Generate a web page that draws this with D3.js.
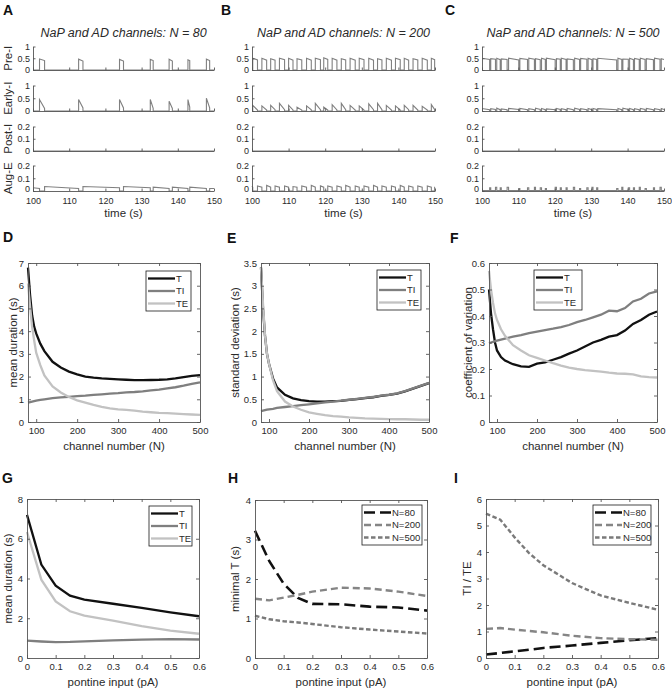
<!DOCTYPE html>
<html><head><meta charset="utf-8">
<script src="https://cdn.jsdelivr.net/npm/d3@7"></script>
<style>
body{margin:0;background:#fff}
svg{display:block}
text{font-family:"Liberation Sans",Arial,Helvetica,sans-serif}
</style>
</head><body>
<svg id="c" width="672" height="692"></svg>
<script>
// ---------------- DATA ----------------
const timeTicks=[100,110,120,130,140,150];
const rowNames=["Pre-I","Early-I","Post-I","Aug-E"];
const rowMax=[1,1,0.2,0.2];
const rowTicks=[[0,0.5,1],[0,0.5,1],[0,0.1,0.2],[0,0.1,0.2]];
const panelTitles=["NaP and AD channels: N = 80","NaP and AD channels: N = 200","NaP and AD channels: N = 500"];

// Panel A (N=80): inspiratory bursts
const onA=[101.8,112.6,123.9,132.4,137.6,142.8,147.9];
const durA=[1.4,1.2,1.1,0.8,0.9,0.5,0.9];
const preIPkA=[0.47,0.46,0.45,0.45,0.46,0.43,0.46];
const preIEndA=[0.4,0.38,0.38,0.4,0.38,0.4,0.4];
const earlyPkA=[0.45,0.45,0.45,0.45,0.38,0.45,0.5];
const earlyEndA=[0.1,0.12,0.12,0.1,0.1,0.15,0.12];
const augStartA=[0.025,0.035,0.035,0.035,0.03,0.03,0.03,0.02];
const augEndA=[0.02,0.02,0.025,0.025,0.02,0.02,0.02,0.02];

// Panel B (N=200)
const onB=[100.2,102.7,105.1,107.5,110.0,112.3,114.9,117.3,119.6,121.9,124.4,126.8,129.3,131.9,134.3,136.7,139.2,141.6,144.0,146.5,149.0];
const durB=[1.3,1.3,1.2,1.4,1.2,1.3,1.3,1.4,1.1,1.3,1.2,1.4,1.3,1.3,1.2,1.4,1.3,1.2,1.3,1.4,0.9];
const preIPkB=[0.5,0.5,0.48,0.5,0.5,0.48,0.5,0.5,0.52,0.5,0.48,0.5,0.5,0.5,0.48,0.5,0.5,0.5,0.48,0.5,0.5];
const preIEndB=[0.43,0.42,0.42,0.44,0.42,0.43,0.42,0.44,0.45,0.42,0.43,0.42,0.44,0.42,0.43,0.42,0.44,0.42,0.43,0.42,0.44];
const earlyPkB=[0.22,0.2,0.22,0.3,0.22,0.15,0.2,0.3,0.15,0.25,0.3,0.22,0.2,0.28,0.3,0.22,0.2,0.22,0.22,0.18,0.25];
const earlyEndB=[0.04,0.04,0.05,0.05,0.04,0.04,0.05,0.05,0.04,0.04,0.05,0.04,0.04,0.05,0.05,0.04,0.04,0.05,0.04,0.04,0.06];
const augStartB=[0.04,0.04,0.045,0.04,0.04,0.035,0.04,0.045,0.04,0.04,0.04,0.045,0.04,0.04,0.045,0.04,0.04,0.045,0.04,0.04,0.04,0.03];
const augEndB=[0.03,0.03,0.03,0.03,0.03,0.03,0.03,0.03,0.03,0.03,0.03,0.03,0.03,0.03,0.03,0.03,0.03,0.03,0.03,0.03,0.03,0.03];

// Panel C (N=500): short silent dips in Pre-I activity
const dipC=[102.1,103.7,105.0,106.9,110.1,112.5,114.4,116.0,117.4,120.1,121.5,123.1,125.1,126.8,128.8,130.2,131.5,137.0,138.4,140.2,141.6,143.2,144.8,147.1,148.9];
const dipLenC=[0.3,0.35,0.3,0.4,0.3,0.35,0.3,0.35,0.3,0.35,0.3,0.3,0.35,0.3,0.35,0.3,0.3,0.35,0.3,0.35,0.3,0.3,0.35,0.3,0.35];
const preIHiC=[0.5,0.48,0.5,0.47,0.5,0.49,0.5,0.48,0.5,0.5,0.48,0.5,0.47,0.5,0.49,0.5,0.48,0.5,0.5,0.47,0.5,0.49,0.5,0.48,0.5,0.48];
const preILoC=[0.45,0.46,0.44,0.45,0.43,0.45,0.46,0.44,0.45,0.44,0.46,0.45,0.44,0.45,0.46,0.44,0.45,0.43,0.45,0.46,0.44,0.45,0.45,0.44,0.46,0.45];
const earlyHiC=[0.1,0.09,0.11,0.08,0.1,0.1,0.09,0.11,0.1,0.08,0.1,0.09,0.1,0.11,0.09,0.1,0.1,0.09,0.1,0.11,0.1,0.09,0.1,0.1,0.09,0.1];
const earlyLoC=[0.05,0.06,0.05,0.05,0.06,0.05,0.05,0.06,0.05,0.05,0.06,0.05,0.05,0.06,0.05,0.05,0.06,0.05,0.05,0.06,0.05,0.05,0.06,0.05,0.05,0.06];
const augDipC=[0.025,0.03,0.025,0.03,0.02,0.025,0.03,0.025,0.02,0.03,0.025,0.025,0.03,0.02,0.025,0.03,0.025,0.02,0.03,0.025,0.025,0.03,0.02,0.025,0.03];

// Panels D-F: channel number
const chanN=[80,85,90,95,100,110,120,140,160,180,200,220,240,260,280,300,320,340,360,380,400,420,440,460,480,500];
const meanT =[6.8,5.6,4.7,4.2,3.9,3.45,3.12,2.65,2.4,2.22,2.1,2.0,1.95,1.92,1.9,1.88,1.86,1.84,1.84,1.85,1.86,1.88,1.92,1.98,2.03,2.06];
const meanTI=[0.85,0.87,0.9,0.92,0.94,0.97,1.0,1.05,1.08,1.11,1.14,1.16,1.19,1.22,1.25,1.27,1.3,1.32,1.35,1.39,1.43,1.48,1.53,1.6,1.68,1.74];
const meanTE=[6.1,5.1,4.2,3.6,3.05,2.5,2.05,1.57,1.3,1.1,0.95,0.85,0.75,0.67,0.6,0.56,0.53,0.5,0.46,0.43,0.4,0.39,0.37,0.35,0.33,0.31];
const sdT =[3.4,2.5,1.9,1.5,1.28,0.96,0.76,0.6,0.52,0.48,0.46,0.45,0.45,0.46,0.465,0.485,0.505,0.525,0.545,0.575,0.595,0.625,0.675,0.735,0.795,0.855];
const sdTI=[0.24,0.25,0.26,0.27,0.28,0.29,0.31,0.33,0.35,0.37,0.39,0.41,0.43,0.45,0.47,0.49,0.51,0.53,0.55,0.58,0.6,0.63,0.68,0.74,0.8,0.86];
const sdTE=[3.4,2.6,1.9,1.5,1.28,0.92,0.68,0.45,0.34,0.27,0.21,0.18,0.15,0.13,0.12,0.1,0.09,0.08,0.075,0.07,0.065,0.06,0.06,0.055,0.05,0.05];
const cvT =[0.5,0.41,0.35,0.3,0.27,0.245,0.232,0.218,0.21,0.208,0.22,0.225,0.235,0.245,0.258,0.27,0.285,0.3,0.31,0.322,0.328,0.345,0.37,0.385,0.405,0.417];
const cvTI=[0.297,0.3,0.302,0.305,0.307,0.311,0.315,0.322,0.328,0.335,0.341,0.347,0.352,0.358,0.366,0.377,0.385,0.395,0.405,0.42,0.418,0.43,0.455,0.465,0.485,0.493];
const cvTE=[0.57,0.5,0.45,0.41,0.385,0.35,0.325,0.29,0.27,0.252,0.242,0.232,0.222,0.213,0.205,0.2,0.196,0.193,0.19,0.186,0.183,0.182,0.18,0.172,0.169,0.168];

// Panels G-I: pontine input
const pontine=[0,0.05,0.1,0.15,0.2,0.3,0.4,0.5,0.6];
const gT =[7.2,4.7,3.64,3.14,2.94,2.73,2.52,2.3,2.1];
const gTI=[0.87,0.83,0.8,0.81,0.84,0.89,0.92,0.95,0.93];
const gTE=[6.34,3.94,2.85,2.35,2.13,1.88,1.6,1.38,1.22];
const hN80 =[3.22,2.45,1.88,1.52,1.37,1.36,1.3,1.28,1.2];
const hN200=[1.5,1.46,1.53,1.6,1.68,1.78,1.76,1.68,1.57];
const hN500=[1.07,0.98,0.93,0.9,0.86,0.78,0.72,0.67,0.62];
const iN80 =[0.13,0.19,0.25,0.31,0.38,0.47,0.57,0.67,0.75];
const iN200=[1.1,1.13,1.07,1.02,0.97,0.84,0.75,0.71,0.69];
const iN500=[5.45,5.22,4.55,3.96,3.5,2.83,2.36,2.08,1.82];

const durNames=["T","TI","TE"];
const nNames=["N=80","N=200","N=500"];
const xTicksN=[100,200,300,400,500];
const xTicksP=[0,0.1,0.2,0.3,0.4,0.5,0.6];

// ---------------- STYLE / LAYOUT ----------------
const AX="#555", TX="#2a2a2a", TRC="#808080";
const colT="#111", colTI="#7f7f7f", colTE="#c2c2c2";
const svg=d3.select("#c");

const letters=[["A",3,15],["B",221,15],["C",445,15],["D",3,242],["E",227,243],["F",450,243],["G",2,483],["H",228,483],["I",454,483]];
letters.forEach(([t,x,y])=>svg.append("text").attr("x",x).attr("y",y).text(t)
  .style("font-size","14px").style("font-weight","bold").attr("fill","#111"));

function styleAxis(sel,fs){
  sel.select(".domain").attr("stroke",AX).attr("stroke-width",0.9);
  sel.selectAll(".tick line").attr("stroke",AX).attr("stroke-width",0.9);
  sel.selectAll(".tick text").attr("fill",TX).style("font-size",fs||"9.5px")
    .style("font-family",'"Liberation Sans",Arial,sans-serif');
}

// ---------------- TIME TRACES (A-C) ----------------
const val=(a,i)=>Array.isArray(a)?a[i]:a;
function buildTrace(on,dur,bS,bE,gS,gE){
  const pts=[]; let prev=100;
  on.forEach((t,i)=>{
    pts.push([prev,val(gS,i)],[t,val(gE,i)],[t,val(bS,i)],[t+dur[i],val(bE,i)]);
    prev=t+dur[i];
  });
  const n=on.length;
  pts.push([prev,val(gS,n)],[150,val(gE,n)]);
  return pts;
}
function clampTrace(pts){return pts.map(p=>[Math.min(p[0],150),p[1]]);}

const tracesA=[
  buildTrace(onA,durA,preIPkA,preIEndA,0,0),
  buildTrace(onA,durA,earlyPkA,earlyEndA,0,0),
  buildTrace(onA,durA,0,0,0,0),
  buildTrace(onA,durA,0,0,augStartA,augEndA)
];
const tracesB=[
  buildTrace(onB,durB,preIPkB,preIEndB,0,0),
  buildTrace(onB,durB,earlyPkB,earlyEndB,0,0),
  buildTrace(onB,durB,0,0,0,0),
  buildTrace(onB,durB,0,0,augStartB,augEndB)
];
const tracesC=[
  buildTrace(dipC,dipLenC,0,0,preIHiC,preILoC),
  buildTrace(dipC,dipLenC,0,0,earlyHiC,earlyLoC),
  buildTrace(dipC,dipLenC,0,0,0,0),
  buildTrace(dipC,dipLenC,augDipC,augDipC,0.004,0.004)
];
const allTraces=[tracesA,tracesB,tracesC];

const timeL=[33,252,482], timeR=[214,435,664];
const rowTop=[46.5,85.5,126.5,165.5], rowBot=[70,111,151,191];

for(let p=0;p<3;p++){
  const L=timeL[p],R=timeR[p];
  const x=d3.scaleLinear().domain([100,150]).range([L,R]);
  const g=svg.append("g");
  g.append("text").attr("x",(L+R)/2).attr("y",37).attr("text-anchor","middle")
    .style("font-style","italic").style("font-size","12.5px").attr("fill",TX).text(panelTitles[p]);
  rowNames.forEach((nm,r)=>{
    const y=d3.scaleLinear().domain([0,rowMax[r]]).range([rowBot[r],rowTop[r]]);
    g.append("path").datum(clampTrace(allTraces[p][r]))
      .attr("d",d3.line().x(d=>x(d[0])).y(d=>y(d[1])))
      .attr("fill","none").attr("stroke",TRC).attr("stroke-width",1.1);
    const ay=g.append("g").attr("transform",`translate(${L},0)`)
      .call(d3.axisLeft(y).tickValues(rowTicks[r]).tickSize(-2.5).tickSizeOuter(0).tickPadding(3).tickFormat(d=>d));
    styleAxis(ay,"9px");
    if(r===3) ay.selectAll(".tick text").filter(d=>d===0).attr("dy","0.1em");
    const ax=g.append("g").attr("transform",`translate(0,${rowBot[r]})`)
      .call(d3.axisBottom(x).tickValues(timeTicks).tickSize(-2.5).tickSizeOuter(0).tickPadding(7)
        .tickFormat(r===3?(d=>d):(()=>"")));
    styleAxis(ax,"9px");
    if(p===0){
      g.append("text").attr("transform",`translate(8,${(rowTop[r]+rowBot[r])/2}) rotate(-90)`)
        .attr("dy","0.35em").attr("text-anchor","middle").style("font-size","11.5px").attr("fill",TX).text(nm);
    }
  });
  g.append("text").attr("x",(L+R)/2).attr("y",217).attr("text-anchor","middle")
    .style("font-size","11.5px").attr("fill",TX).text("time (s)");
}

// ---------------- CURVE PANELS (D-I) ----------------
function curvePanel(cfg){
  const {L,R,T,B,xDom,yDom,xTicks,yTicks,xs,series,yLabel,yLabX,xLabel,leg}=cfg;
  const x=d3.scaleLinear().domain(xDom).range([L,R]);
  const y=d3.scaleLinear().domain(yDom).range([B,T]);
  const g=svg.append("g");
  series.forEach(s=>{
    g.append("path").datum(s.v)
      .attr("d",d3.line().x((d,i)=>x(xs[i])).y(d=>y(d)))
      .attr("fill","none").attr("stroke",s.c).attr("stroke-width",s.w)
      .attr("stroke-dasharray",s.dash||null);
  });
  const fmt=d=>d;
  const ab=g.append("g").attr("transform",`translate(0,${B})`)
    .call(d3.axisBottom(x).tickValues(xTicks).tickSize(-3).tickSizeOuter(0).tickPadding(5).tickFormat(fmt));
  styleAxis(ab);
  const at=g.append("g").attr("transform",`translate(0,${T})`)
    .call(d3.axisTop(x).tickValues(xTicks).tickSize(-3).tickSizeOuter(0).tickFormat(()=>""));
  styleAxis(at);
  const al=g.append("g").attr("transform",`translate(${L},0)`)
    .call(d3.axisLeft(y).tickValues(yTicks).tickSize(-3).tickSizeOuter(0).tickPadding(4).tickFormat(fmt));
  styleAxis(al);
  const ar=g.append("g").attr("transform",`translate(${R},0)`)
    .call(d3.axisRight(y).tickValues(yTicks).tickSize(-3).tickSizeOuter(0).tickFormat(()=>""));
  styleAxis(ar);
  g.append("text").attr("transform",`translate(${yLabX},${(T+B)/2}) rotate(-90)`)
    .attr("dy","0.35em").attr("text-anchor","middle").style("font-size","11.5px").attr("fill",TX).text(yLabel);
  g.append("text").attr("x",(L+R)/2).attr("y",B+28).attr("text-anchor","middle")
    .style("font-size","11.5px").attr("fill",TX).text(xLabel);
  // legend
  const lg=g.append("g");
  lg.append("rect").attr("x",leg.x).attr("y",leg.y).attr("width",leg.w).attr("height",40)
    .attr("fill","#fff").attr("stroke","#1a1a1a").attr("stroke-width",0.8);
  series.forEach((s,i)=>{
    const yy=leg.y+7.5+i*12.5;
    lg.append("line").attr("x1",leg.x+2).attr("x2",leg.x+29).attr("y1",yy).attr("y2",yy)
      .attr("stroke",s.c).attr("stroke-width",s.w).attr("stroke-dasharray",s.dash||null);
    lg.append("text").attr("x",leg.x+30).attr("y",yy).attr("dy","0.35em")
      .style("font-size","9.5px").attr("fill",TX).text(s.n);
  });
}

const durSeries=(a,b,c)=>[
  {n:durNames[0],v:a,c:colT,w:2.3},
  {n:durNames[1],v:b,c:colTI,w:2.3},
  {n:durNames[2],v:c,c:colTE,w:2.3}];
const nSeries=(a,b,c)=>[
  {n:nNames[0],v:a,c:"#111",w:2.6,dash:"11,5"},
  {n:nNames[1],v:b,c:"#858585",w:2.4,dash:"7,4"},
  {n:nNames[2],v:c,c:"#7a7a7a",w:2.4,dash:"4.5,2.5"}];

curvePanel({L:28,R:200,T:263,B:422,xDom:[80,500],yDom:[0,7],xTicks:xTicksN,yTicks:[0,1,2,3,4,5,6,7],
  xs:chanN,series:durSeries(meanT,meanTI,meanTE),yLabel:"mean duration (s)",yLabX:13,xLabel:"channel number (N)",
  leg:{x:146,y:271,w:45}});
curvePanel({L:261,R:429,T:263,B:422,xDom:[80,500],yDom:[0,3.5],xTicks:xTicksN,yTicks:[0,0.5,1,1.5,2,2.5,3,3.5],
  xs:chanN,series:durSeries(sdT,sdTI,sdTE),yLabel:"standard deviation (s)",yLabX:235,xLabel:"channel number (N)",
  leg:{x:377,y:270,w:44}});
curvePanel({L:489,R:657,T:263,B:422,xDom:[80,500],yDom:[0,0.6],xTicks:xTicksN,yTicks:[0,0.1,0.2,0.3,0.4,0.5,0.6],
  xs:chanN,series:durSeries(cvT,cvTI,cvTE),yLabel:"coefficient of variation",yLabX:468,xLabel:"channel number (N)",
  leg:{x:534,y:270,w:48}});
curvePanel({L:27,R:199,T:499,B:658,xDom:[0,0.6],yDom:[0,8],xTicks:xTicksP,yTicks:[0,2,4,6,8],
  xs:pontine,series:durSeries(gT,gTI,gTE),yLabel:"mean duration (s)",yLabX:8,xLabel:"pontine input (pA)",
  leg:{x:149,y:506,w:43}});
curvePanel({L:255,R:427,T:500,B:658,xDom:[0,0.6],yDom:[0,4],xTicks:xTicksP,yTicks:[0,1,2,3,4],
  xs:pontine,series:nSeries(hN80,hN200,hN500),yLabel:"minimal T (s)",yLabX:235,xLabel:"pontine input (pA)",
  leg:{x:362,y:505,w:60}});
curvePanel({L:486,R:658,T:499,B:658,xDom:[0,0.6],yDom:[0,6],xTicks:xTicksP,yTicks:[0,1,2,3,4,5,6],
  xs:pontine,series:nSeries(iN80,iN200,iN500),yLabel:"TI / TE",yLabX:467,xLabel:"pontine input (pA)",
  leg:{x:593,y:505,w:58}});
</script>
</body></html>
